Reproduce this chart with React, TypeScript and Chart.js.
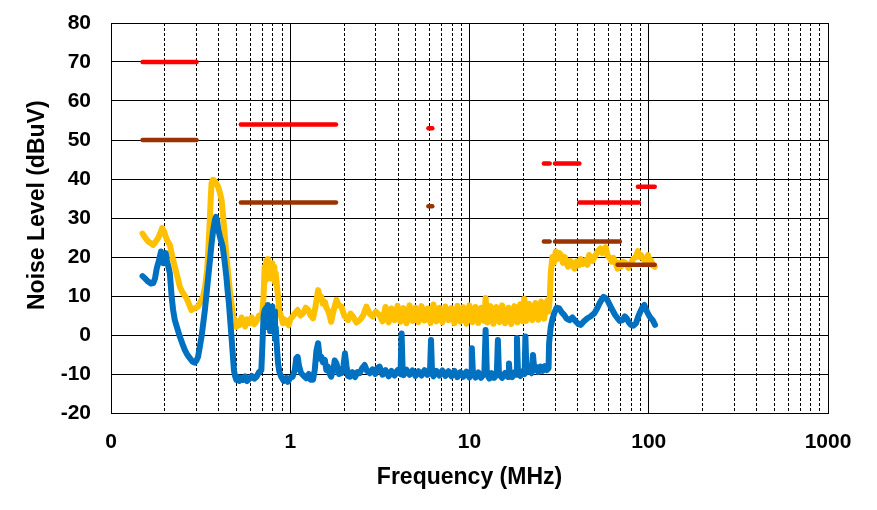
import React, { useEffect, useRef } from "react";
import { Chart, registerables } from "chart.js";

Chart.register(...registerables);

// X axis (log) tick values and labels
const xTickValues = [
  0.1, 0.2, 0.3, 0.4, 0.5, 0.6, 0.7, 0.8, 0.9,
  1, 2, 3, 4, 5, 6, 7, 8, 9,
  10, 20, 30, 40, 50, 60, 70, 80, 90,
  100, 200, 300, 400, 500, 600, 700, 800, 900,
  1000,
];
const xMajorTicks = [0.1, 1, 10, 100, 1000];
const xMajorLabels = ["0", "1", "10", "100", "1000"];
const yTickMin = -20;
const yTickMax = 80;
const yTickStep = 10;

// Limit segments: [startMHz, endMHz, level]
const redLimits: [number, number, number][] = [
  [0.15, 0.3, 70],
  [0.53, 1.8, 54],
  [5.9, 6.2, 53],
  [26, 28, 44],
  [30, 41, 44],
  [41, 88, 34],
  [87, 108, 38],
];
const brownLimits: [number, number, number][] = [
  [0.15, 0.3, 50],
  [0.53, 1.8, 34],
  [5.9, 6.2, 33],
  [26, 28, 24],
  [30, 69, 24],
  [67, 108, 18],
];

// Measured traces: [MHz, dBuV]
const yellowTrace: [number, number][] = [
  [0.15, 26], [0.155, 25], [0.161, 24], [0.167, 23.5], [0.172, 23.1], [0.178, 24], [0.183, 24.8],
  [0.188, 26], [0.193, 27.4], [0.198, 26.5], [0.202, 25.2], [0.207, 24], [0.213, 23.1], [0.22, 20],
  [0.227, 17.5], [0.235, 14.8], [0.242, 12.4], [0.25, 11], [0.264, 9.4], [0.272, 8], [0.281, 6.4],
  [0.29, 6.8], [0.298, 7], [0.306, 7.3], [0.316, 8.5], [0.326, 9.8], [0.335, 12.5], [0.344, 16.7],
  [0.35, 23], [0.356, 29.5], [0.36, 35], [0.364, 38.9], [0.37, 39.8], [0.375, 39.7], [0.385, 39],
  [0.396, 38], [0.405, 36.5], [0.414, 34.6], [0.423, 30], [0.432, 25.2], [0.44, 20.5], [0.45, 15.8],
  [0.46, 11.5], [0.47, 8.1], [0.48, 5], [0.49, 3], [0.5, 2.1], [0.51, 3.5], [0.52, 2.5], [0.535, 4.5],
  [0.546, 3.5], [0.56, 2.2], [0.575, 4], [0.595, 3], [0.61, 4.5], [0.63, 2.8], [0.648, 3.5],
  [0.67, 5], [0.69, 5.2], [0.7, 6], [0.71, 10], [0.72, 17.5], [0.728, 14], [0.735, 19],
  [0.742, 15], [0.75, 19.5], [0.757, 15.5], [0.765, 18], [0.772, 14.5], [0.78, 17], [0.787, 14.5],
  [0.795, 18.4], [0.805, 15], [0.815, 17.5], [0.823, 13.5], [0.83, 15.8], [0.845, 12], [0.855, 9.8],
  [0.87, 6], [0.89, 4.7], [0.91, 3], [0.93, 4], [0.95, 3.4], [0.98, 2.5], [1.0, 4], [1.03, 4.7],
  [1.06, 5.5], [1.1, 6.4], [1.14, 5], [1.18, 5.6], [1.22, 7], [1.26, 6.4], [1.3, 5], [1.34, 4.3],
  [1.38, 7], [1.43, 11.5], [1.46, 10], [1.49, 9.8], [1.52, 8], [1.56, 8.5], [1.59, 7], [1.62, 6.4],
  [1.66, 5], [1.69, 3.4], [1.74, 6], [1.81, 9], [1.87, 7.5], [1.93, 7.3], [2.0, 5], [2.1, 3.8],
  [2.17, 5.5], [2.24, 4.7], [2.34, 3.2], [2.44, 3.8], [2.55, 5], [2.66, 7.3], [2.77, 5.5],
  [2.89, 4.7], [3.0, 6], [3.15, 5.1],
  [3.27, 3.5], [3.4, 7.2], [3.54, 3.2], [3.67, 6.8], [3.82, 3.8], [3.97, 7.5], [4.12, 3.4],
  [4.28, 6.9], [4.45, 3.0], [4.63, 7.6], [4.81, 3.6], [5.0, 7.0], [5.19, 3.3], [5.4, 7.4],
  [5.61, 3.7], [5.83, 6.8], [6.06, 3.1], [6.29, 7.8], [6.54, 3.5], [6.8, 7.0], [7.06, 3.2],
  [7.34, 7.3], [7.63, 3.8], [7.93, 6.9], [8.24, 3.0], [8.56, 7.5], [8.9, 3.4], [9.24, 7.1],
  [9.61, 2.9], [9.98, 7.6], [10.4, 3.3], [10.8, 7.2], [11.2, 3.1], [11.6, 7.0], [12.1, 3.6],
  [12.3, 9.5], [12.6, 3.2], [13.1, 7.4], [13.6, 2.9], [14.1, 7.2], [14.7, 3.3], [15.2, 7.6],
  [15.8, 3.0], [16.5, 7.0], [17.1, 2.8], [17.8, 7.4], [18.5, 3.2], [19.2, 7.9], [19.9, 3.5],
  [20.2, 9.3], [20.7, 3.6], [21.5, 8.0], [22.4, 3.8], [23.3, 8.2], [24.2, 3.9], [25.1, 8.6],
  [26.1, 4.2], [27.1, 8.8], [27.6, 6], [28.0, 9], [28.4, 15.8],
  [29.0, 20], [29.6, 18.5], [30.3, 21.4], [31.0, 19.5], [31.7, 21], [32.4, 20.5], [33.2, 18.5],
  [34.0, 20], [34.5, 18.8], [35.5, 17.5], [36.5, 19], [37.5, 18.4], [38.5, 17], [39.5, 18.8],
  [40.7, 17.9], [41.7, 19.5], [42.8, 18.2], [44.4, 19.2], [45.5, 18], [46.5, 20.5], [47.4, 20.1],
  [48.5, 19], [50.6, 20.5], [52, 21.5], [53.9, 22.2], [55, 21], [56.3, 21.8], [57.5, 22.5],
  [58.7, 20.5], [60, 20], [61, 19.5], [62.2, 18.8], [63.5, 19.8], [65.4, 18.4], [67, 17],
  [68.5, 18.5], [69.8, 17.5], [72, 18.8], [74.5, 18.4], [77, 17.2], [79.5, 18.4], [82, 19.5],
  [84.9, 20.1], [87, 21.5], [89, 20], [90.6, 20.5], [93, 19.5], [96.7, 18.8], [99, 20.5],
  [101, 18.5], [103, 19.2], [105.5, 17.8], [108, 17.5],
];

const blueTrace: [number, number][] = [
  [0.15, 15.1], [0.155, 14.5], [0.161, 13.7], [0.167, 13.2], [0.172, 13.3], [0.176, 14.5],
  [0.18, 17.1], [0.185, 19], [0.19, 21.4], [0.193, 19.5], [0.196, 18.4], [0.199, 20.5],
  [0.202, 21], [0.205, 19], [0.209, 17.5], [0.213, 15.8], [0.218, 9.8], [0.222, 6.5],
  [0.227, 3.8], [0.235, 1.5], [0.242, -0.4], [0.25, -2.2], [0.258, -3.8], [0.266, -5],
  [0.276, -6], [0.285, -6.8], [0.293, -7.1], [0.3, -6.5], [0.306, -5.6], [0.313, -3],
  [0.32, -0.4], [0.327, 3], [0.334, 6.4], [0.342, 11], [0.349, 15], [0.357, 19.5],
  [0.364, 23.5], [0.372, 27], [0.38, 29.5], [0.385, 30.3], [0.39, 29.5], [0.397, 27],
  [0.405, 25.2], [0.412, 24], [0.42, 22.6], [0.43, 19], [0.44, 15], [0.448, 11], [0.455, 8.1],
  [0.462, 4], [0.47, -0.4], [0.478, -5], [0.485, -9], [0.492, -10.5], [0.5, -11.5],
  [0.51, -10.8], [0.52, -11.8], [0.53, -11], [0.546, -11.5], [0.56, -10.6], [0.575, -11.8],
  [0.595, -11.1], [0.61, -10.5], [0.63, -11.2], [0.648, -10.7], [0.67, -9.5], [0.69, -9],
  [0.7, -2], [0.71, 5], [0.72, 6.4], [0.727, 2], [0.735, 7], [0.742, 3], [0.75, 7.7],
  [0.757, 2.5], [0.765, 6], [0.772, 1], [0.78, 5], [0.787, 1.5], [0.795, 7.3], [0.805, 2],
  [0.815, 6], [0.822, -1], [0.83, 2], [0.845, -4], [0.855, -7.3], [0.87, -9.5],
  [0.89, -10.7], [0.92, -11.8], [0.95, -11], [0.97, -12], [1.0, -11], [1.03, -10.7],
  [1.06, -9], [1.08, -6], [1.1, -5.6], [1.12, -8], [1.15, -9.8], [1.19, -10.5], [1.23, -11.1],
  [1.27, -10], [1.3, -11.5], [1.34, -11.5], [1.37, -9], [1.4, -4], [1.43, -2.1], [1.46, -6],
  [1.49, -5.6], [1.52, -7], [1.56, -6.4], [1.59, -9], [1.62, -8.1], [1.66, -10], [1.69, -10.7],
  [1.74, -9], [1.77, -6.5], [1.81, -7.3], [1.87, -10], [1.93, -9.8], [1.98, -8], [2.02, -4.7],
  [2.06, -8], [2.1, -10.5], [2.15, -10.7], [2.22, -9.5], [2.3, -10.8], [2.37, -9.5],
  [2.44, -9.8], [2.52, -8.5], [2.6, -7.7], [2.68, -9.2], [2.78, -9.8], [2.88, -8.8],
  [2.98, -10], [3.06, -8.5], [3.15, -8.1],
  [3.27, -10.2], [3.4, -9.0], [3.54, -10.6], [3.67, -9.2], [3.82, -10.4], [3.97, -9.0],
  [4.12, -10.0], [4.18, 0.4], [4.24, -9.5], [4.28, -10.3], [4.45, -8.9], [4.63, -10.2],
  [4.81, -9.1], [5.0, -10.5], [5.19, -9.3], [5.4, -10.4], [5.61, -9.0], [5.83, -10.2],
  [6.02, -9.4], [6.1, -1.3], [6.18, -9.6], [6.29, -10.6], [6.54, -9.2], [6.8, -10.4],
  [7.06, -9.1], [7.34, -10.5], [7.63, -9.3], [7.93, -10.6], [8.24, -9.2], [8.56, -10.8],
  [8.9, -9.5], [9.24, -10.7], [9.61, -9.4], [9.98, -10.9], [10.2, -9.8], [10.3, -3.4],
  [10.45, -9.8], [10.8, -10.9], [11.2, -9.6], [11.6, -11.0], [12.1, -9.8], [12.3, 1.3],
  [12.5, -10.0], [12.9, -11.2], [13.3, -9.8], [13.7, -11.0], [14.2, -10.2], [14.4, -1.3],
  [14.6, -10.0], [15.2, -11.0], [15.8, -9.7], [16.4, -10.8], [16.6, -7.3], [16.8, -10.2],
  [17.3, -10.8], [17.9, -9.5], [18.2, -10.2], [18.4, -0.8], [18.65, -9.8], [19.2, -10.5],
  [19.9, -9.2], [20.3, -10.0], [20.5, -0.4], [20.8, -9.6], [21.5, -9.0], [22.2, -9.8],
  [22.6, -5.1], [23.0, -9.0], [23.6, -8.2], [24.2, -9.5], [24.9, -8.1], [25.6, -9.2],
  [26.3, -8.0], [27.0, -9.0], [27.6, -8.5], [27.8, -2.1], [28.4, 2.1], [29.0, 4], [29.7, 5.6],
  [30.6, 7], [31.7, 6.8], [32.7, 5.8], [33.8, 5.1], [34.8, 4.2], [36.1, 3.8], [37.5, 4.5],
  [39.3, 3.4], [40.5, 2.8], [41.8, 2.6], [43.5, 3.5], [45.5, 4.3], [47.5, 4.8], [49.8, 5.6],
  [51.5, 6.8], [53.1, 8.1], [55.9, 9.8], [57.3, 9.5], [58.7, 9], [60.5, 7.8], [62.7, 6.4],
  [64.8, 5.2], [67, 4.3], [69, 3.6], [71.4, 3.8], [73.5, 4.8], [75.3, 4.3], [77.5, 3.2],
  [79.5, 2.6], [82, 2.4], [84.9, 3], [87.5, 4.8], [90.6, 6.4], [92.5, 7.2], [94.5, 7.7],
  [96.5, 6.5], [98.8, 5.6], [102, 4.5], [105.2, 3.8], [108.4, 2.6],
];

const YELLOW = "#FFC000";
const BLUE = "#0070C0";
const RED = "#FF0000";
const BROWN = "#993300";
const FONT = "'Liberation Sans', Arial, Helvetica, sans-serif";

const isMajor = (v: number) => xMajorTicks.some((m) => Math.abs(m - v) < 1e-9);

export default function App() {
  const canvasRef = useRef<HTMLCanvasElement | null>(null);

  useEffect(() => {
    document.body.style.margin = "0";
    const canvas = canvasRef.current;
    if (!canvas) return;

    const limitSets = (list: [number, number, number][], color: string) =>
      list.map(([a, b, lvl]) => ({
        type: "line" as const,
        data: [
          { x: a, y: lvl },
          { x: b, y: lvl },
        ],
        borderColor: color,
        backgroundColor: color,
        borderWidth: 4.5,
        borderCapStyle: "round" as const,
        pointRadius: 0,
        fill: false,
        order: 0,
      }));

    const chart = new Chart(canvas, {
      type: "line",
      data: {
        datasets: [
          ...limitSets(redLimits, RED),
          ...limitSets(brownLimits, BROWN),
          {
            data: blueTrace.map(([x, y]) => ({ x, y })),
            borderColor: BLUE,
            backgroundColor: BLUE,
            borderWidth: 6,
            borderCapStyle: "round",
            borderJoinStyle: "round",
            pointRadius: 0,
            tension: 0,
            fill: false,
            order: 1,
          },
          {
            data: yellowTrace.map(([x, y]) => ({ x, y })),
            borderColor: YELLOW,
            backgroundColor: YELLOW,
            borderWidth: 6,
            borderCapStyle: "round",
            borderJoinStyle: "round",
            pointRadius: 0,
            tension: 0,
            fill: false,
            order: 2,
          },
        ],
      },
      options: {
        animation: false,
        responsive: false,
        maintainAspectRatio: false,
        layout: { padding: { top: 23, right: 49, left: 0, bottom: 0 } },
        plugins: {
          legend: { display: false },
          tooltip: { enabled: false },
        },
        scales: {
          x: {
            type: "logarithmic",
            min: 0.1,
            max: 1000,
            afterBuildTicks: (scale: any) => {
              scale.ticks = xTickValues.map((v) => ({ value: v, major: isMajor(v) }));
            },
            afterFit: (scale: any) => {
              scale.height = 97;
            },
            ticks: {
              autoSkip: false,
              maxRotation: 0,
              minRotation: 0,
              padding: 17,
              color: "#000",
              font: { family: FONT, size: 21, weight: "bold" },
              callback: (value: any) => {
                const idx = xMajorTicks.findIndex((m) => Math.abs(m - Number(value)) < 1e-9);
                return idx >= 0 ? xMajorLabels[idx] : "";
              },
            },
            grid: {
              color: "#000",
              lineWidth: 1,
              drawTicks: false,
            },
            border: {
              display: true,
              color: "#000",
              width: 1,
              dash: (ctx: any) => (ctx.tick && !isMajor(ctx.tick.value) ? [3, 2] : []),
            },
            title: {
              display: true,
              text: "Frequency (MHz)",
              color: "#000",
              font: { family: FONT, size: 23, weight: "bold" },
              padding: { top: 0, bottom: 19 },
            },
          },
          y: {
            type: "linear",
            min: yTickMin,
            max: yTickMax,
            afterFit: (scale: any) => {
              scale.width = 111;
              scale.paddingTop = 0;
              scale.paddingBottom = 0;
            },
            ticks: {
              stepSize: yTickStep,
              padding: 20,
              color: "#000",
              font: { family: FONT, size: 21, weight: "bold" },
            },
            grid: {
              color: "#000",
              lineWidth: 1,
              drawTicks: false,
            },
            border: { display: true, color: "#000", width: 1 },
            title: {
              display: true,
              text: "    Noise Level (dBuV)",
              color: "#000",
              font: { family: FONT, size: 23, weight: "bold" },
              padding: { top: 24, bottom: 0 },
            },
          },
        },
      },
    } as any);

    return () => {
      chart.destroy();
    };
  }, []);

  return (
    <div style={{ width: 877, height: 510, background: "#fff" }}>
      <canvas ref={canvasRef} width={877} height={510} style={{ display: "block" }} />
    </div>
  );
}
